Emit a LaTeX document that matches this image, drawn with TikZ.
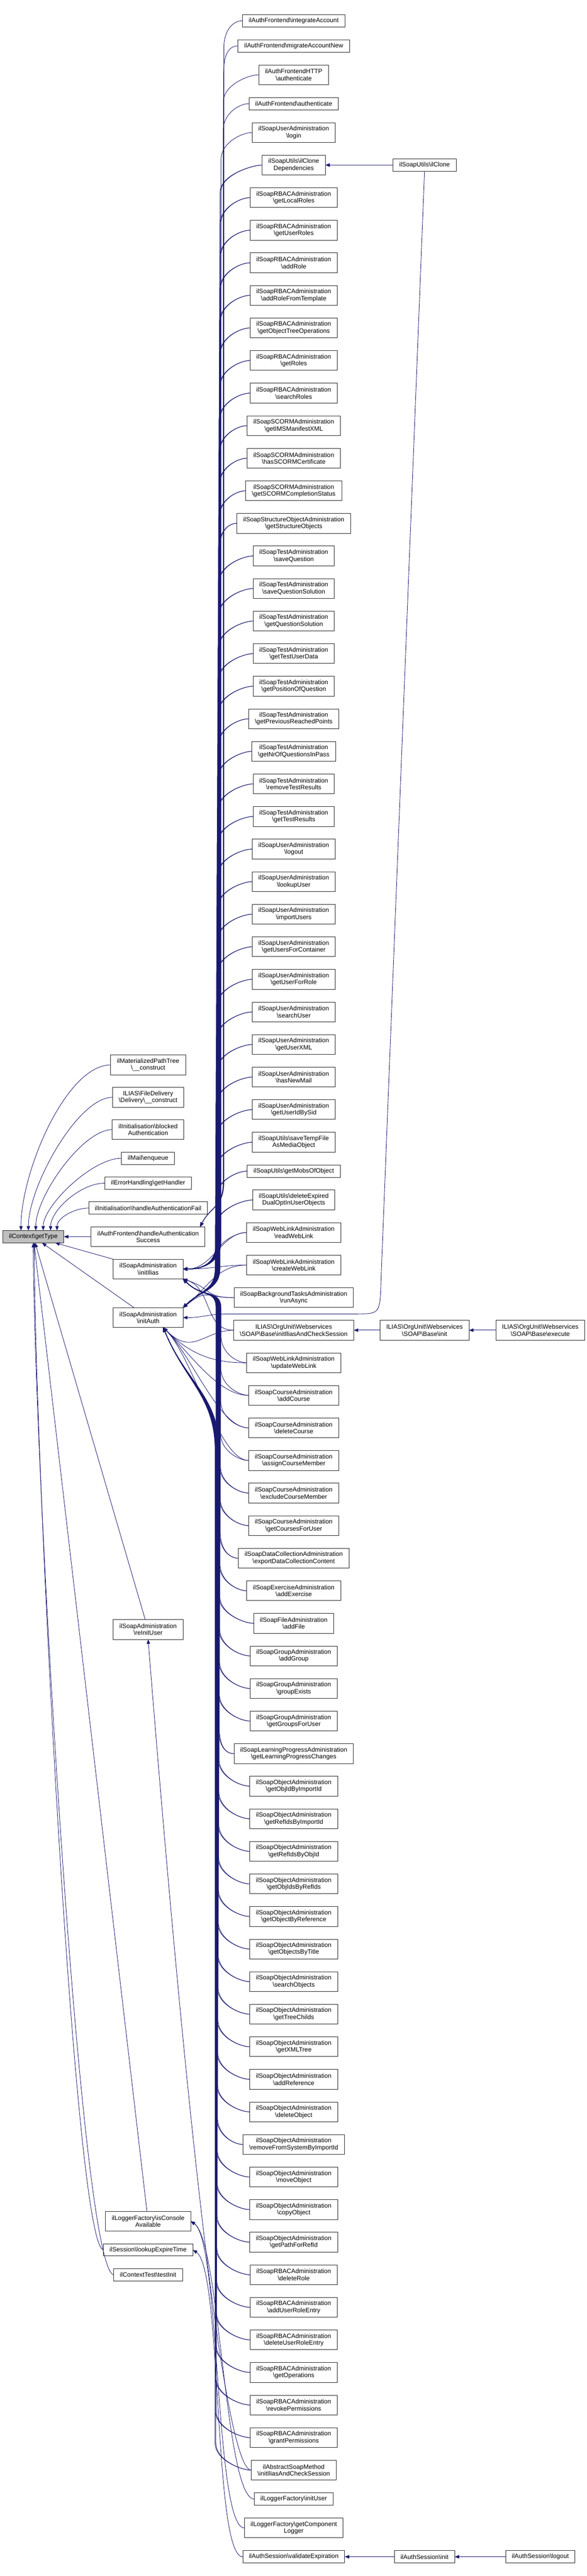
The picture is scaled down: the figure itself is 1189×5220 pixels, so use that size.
\documentclass[tikz,border=0pt]{standalone}
\usepackage{fontspec}
\setmainfont{Liberation Sans}
\usepackage{tikz}
\usetikzlibrary{positioning, calc, arrows.meta}

\definecolor{edgeblue}{RGB}{25,25,112}
\definecolor{focusgray}{RGB}{191,191,191}
\newcommand{\dsep}{\textbackslash}

\begin{document}
\begin{tikzpicture}[x=1pt, y=-1pt, node distance=26pt,
  >={Triangle[length=9pt, width=7pt]},
  fn/.style={rectangle, draw=black!85, line width=0.9pt, fill=white, align=center,
    inner xsep=12.6pt, inner ysep=2pt, outer sep=0pt, minimum height=25pt,
    font=\fontsize{12.75}{14}\selectfont},
  dbl/.style={minimum height=40pt},
  call/.style={->, draw=edgeblue, line width=0.9pt}]

  \useasboundingbox (0,0) rectangle (1189,5220);

  % the function
  \node[fn, fill=focusgray] (gettype) at (67.5,2506) {ilContext\dsep getType};

  % direct callers
  \node[fn, dbl] (mptree) at (300,2158) {ilMaterializedPathTree\\\dsep\_\_construct};
  \node[fn, dbl, below=25.5pt of mptree] (filedel) {ILIAS\dsep FileDelivery\\\dsep Delivery\dsep\_\_construct};
  \node[fn, dbl, below=25.5pt of filedel] (blocked) {ilInitialisation\dsep blocked\\Authentication};
  \node[fn, below=25.5pt of blocked] (enqueue) {ilMail\dsep enqueue};
  \node[fn, below=25.5pt of enqueue] (gethandler) {ilErrorHandling\dsep getHandler};
  \node[fn, below=25.5pt of gethandler] (authfail) {ilInitialisation\dsep handleAuthenticationFail};
  \node[fn, dbl, below=25.5pt of authfail] (authsucc) {ilAuthFrontend\dsep handleAuthentication\\Success};
  \node[fn, dbl, below=25.5pt of authsucc] (initilias) {ilSoapAdministration\\\dsep initIlias};
  \node[fn, dbl] (initauth) at (300,2670) {ilSoapAdministration\\\dsep initAuth};
  \node[fn, dbl] (reinituser) at (300,3302) {ilSoapAdministration\\\dsep reInitUser};
  \node[fn, dbl] (isconsole) at (300,4501) {ilLoggerFactory\dsep isConsole\\Available};
  \node[fn, below=25.5pt of isconsole] (lookup) {ilSession\dsep lookupExpireTime};
  \node[fn, below=25.5pt of lookup] (testinit) {ilContextTest\dsep testInit};

  % callers of the callers
  \node[fn] (integrate) at (595,42) {ilAuthFrontend\dsep integrateAccount};
  \node[fn, below=of integrate] (migrate) {ilAuthFrontend\dsep migrateAccountNew};
  \node[fn, dbl, below=of migrate] (httpauth) {ilAuthFrontendHTTP\\\dsep authenticate};
  \node[fn, below=of httpauth] (frontauth) {ilAuthFrontend\dsep authenticate};
  \node[fn, dbl, below=of frontauth] (login) {ilSoapUserAdministration\\\dsep login};
  \node[fn, dbl, below=of login] (clonedeps) {ilSoapUtils\dsep ilClone\\Dependencies};
  \node[fn, dbl, below=of clonedeps] (localroles) {ilSoapRBACAdministration\\\dsep getLocalRoles};
  \node[fn, dbl, below=of localroles] (userroles) {ilSoapRBACAdministration\\\dsep getUserRoles};
  \node[fn, dbl, below=of userroles] (addrole) {ilSoapRBACAdministration\\\dsep addRole};
  \node[fn, dbl, below=of addrole] (roletemplate) {ilSoapRBACAdministration\\\dsep addRoleFromTemplate};
  \node[fn, dbl, below=of roletemplate] (treeops) {ilSoapRBACAdministration\\\dsep getObjectTreeOperations};
  \node[fn, dbl, below=of treeops] (getroles) {ilSoapRBACAdministration\\\dsep getRoles};
  \node[fn, dbl, below=of getroles] (searchroles) {ilSoapRBACAdministration\\\dsep searchRoles};
  \node[fn, dbl, below=of searchroles] (manifest) {ilSoapSCORMAdministration\\\dsep getIMSManifestXML};
  \node[fn, dbl, below=of manifest] (scormcert) {ilSoapSCORMAdministration\\\dsep hasSCORMCertificate};
  \node[fn, dbl, below=of scormcert] (scormstatus) {ilSoapSCORMAdministration\\\dsep getSCORMCompletionStatus};
  \node[fn, dbl, below=of scormstatus] (structobjs) {ilSoapStructureObjectAdministration\\\dsep getStructureObjects};
  \node[fn, dbl, below=of structobjs] (savequest) {ilSoapTestAdministration\\\dsep saveQuestion};
  \node[fn, dbl, below=of savequest] (savesol) {ilSoapTestAdministration\\\dsep saveQuestionSolution};
  \node[fn, dbl, below=of savesol] (getsol) {ilSoapTestAdministration\\\dsep getQuestionSolution};
  \node[fn, dbl, below=of getsol] (testuser) {ilSoapTestAdministration\\\dsep getTestUserData};
  \node[fn, dbl, below=of testuser] (questpos) {ilSoapTestAdministration\\\dsep getPositionOfQuestion};
  \node[fn, dbl, below=of questpos] (prevpoints) {ilSoapTestAdministration\\\dsep getPreviousReachedPoints};
  \node[fn, dbl, below=of prevpoints] (nrquest) {ilSoapTestAdministration\\\dsep getNrOfQuestionsInPass};
  \node[fn, dbl, below=of nrquest] (rmresults) {ilSoapTestAdministration\\\dsep removeTestResults};
  \node[fn, dbl, below=of rmresults] (testresults) {ilSoapTestAdministration\\\dsep getTestResults};
  \node[fn, dbl, below=of testresults] (logout) {ilSoapUserAdministration\\\dsep logout};
  \node[fn, dbl, below=of logout] (lookupuser) {ilSoapUserAdministration\\\dsep lookupUser};
  \node[fn, dbl, below=of lookupuser] (importusers) {ilSoapUserAdministration\\\dsep importUsers};
  \node[fn, dbl, below=of importusers] (userscont) {ilSoapUserAdministration\\\dsep getUsersForContainer};
  \node[fn, dbl, below=of userscont] (userrole) {ilSoapUserAdministration\\\dsep getUserForRole};
  \node[fn, dbl, below=of userrole] (searchuser) {ilSoapUserAdministration\\\dsep searchUser};
  \node[fn, dbl, below=of searchuser] (userxml) {ilSoapUserAdministration\\\dsep getUserXML};
  \node[fn, dbl, below=of userxml] (newmail) {ilSoapUserAdministration\\\dsep hasNewMail};
  \node[fn, dbl, below=of newmail] (useridsid) {ilSoapUserAdministration\\\dsep getUserIdBySid};
  \node[fn, dbl, below=of useridsid] (tempfile) {ilSoapUtils\dsep saveTempFile\\AsMediaObject};
  \node[fn, below=of tempfile] (mobs) {ilSoapUtils\dsep getMobsOfObject};
  \node[fn, dbl, below=of mobs] (dualoptin) {ilSoapUtils\dsep deleteExpired\\DualOptInUserObjects};
  \node[fn, dbl, below=of dualoptin] (readlink) {ilSoapWebLinkAdministration\\\dsep readWebLink};
  \node[fn, dbl, below=of readlink] (createlink) {ilSoapWebLinkAdministration\\\dsep createWebLink};
  \node[fn, dbl, below=of createlink] (runasync) {ilSoapBackgroundTasksAdministration\\\dsep runAsync};
  \node[fn, dbl, below=of runasync] (orgcheck) {ILIAS\dsep OrgUnit\dsep Webservices\\\dsep SOAP\dsep Base\dsep initIliasAndCheckSession};
  \node[fn, dbl, below=of orgcheck] (updatelink) {ilSoapWebLinkAdministration\\\dsep updateWebLink};
  \node[fn, dbl, below=of updatelink] (addcourse) {ilSoapCourseAdministration\\\dsep addCourse};
  \node[fn, dbl, below=of addcourse] (delcourse) {ilSoapCourseAdministration\\\dsep deleteCourse};
  \node[fn, dbl, below=of delcourse] (assignmember) {ilSoapCourseAdministration\\\dsep assignCourseMember};
  \node[fn, dbl, below=of assignmember] (excludemember) {ilSoapCourseAdministration\\\dsep excludeCourseMember};
  \node[fn, dbl, below=of excludemember] (coursesuser) {ilSoapCourseAdministration\\\dsep getCoursesForUser};
  \node[fn, dbl, below=of coursesuser] (dcexport) {ilSoapDataCollectionAdministration\\\dsep exportDataCollectionContent};
  \node[fn, dbl, below=of dcexport] (addexercise) {ilSoapExerciseAdministration\\\dsep addExercise};
  \node[fn, dbl, below=of addexercise] (addfile) {ilSoapFileAdministration\\\dsep addFile};
  \node[fn, dbl, below=of addfile] (addgroup) {ilSoapGroupAdministration\\\dsep addGroup};
  \node[fn, dbl, below=of addgroup] (groupexists) {ilSoapGroupAdministration\\\dsep groupExists};
  \node[fn, dbl, below=of groupexists] (groupsuser) {ilSoapGroupAdministration\\\dsep getGroupsForUser};
  \node[fn, dbl, below=of groupsuser] (lpchanges) {ilSoapLearningProgressAdministration\\\dsep getLearningProgressChanges};
  \node[fn, dbl, below=of lpchanges] (objidimport) {ilSoapObjectAdministration\\\dsep getObjIdByImportId};
  \node[fn, dbl, below=of objidimport] (refidsimport) {ilSoapObjectAdministration\\\dsep getRefIdsByImportId};
  \node[fn, dbl, below=of refidsimport] (refidsobj) {ilSoapObjectAdministration\\\dsep getRefIdsByObjId};
  \node[fn, dbl, below=of refidsobj] (objidsref) {ilSoapObjectAdministration\\\dsep getObjIdsByRefIds};
  \node[fn, dbl, below=of objidsref] (objbyref) {ilSoapObjectAdministration\\\dsep getObjectByReference};
  \node[fn, dbl, below=of objbyref] (objbytitle) {ilSoapObjectAdministration\\\dsep getObjectsByTitle};
  \node[fn, dbl, below=of objbytitle] (searchobjs) {ilSoapObjectAdministration\\\dsep searchObjects};
  \node[fn, dbl, below=of searchobjs] (treechilds) {ilSoapObjectAdministration\\\dsep getTreeChilds};
  \node[fn, dbl, below=of treechilds] (xmltree) {ilSoapObjectAdministration\\\dsep getXMLTree};
  \node[fn, dbl, below=of xmltree] (addref) {ilSoapObjectAdministration\\\dsep addReference};
  \node[fn, dbl, below=of addref] (delobj) {ilSoapObjectAdministration\\\dsep deleteObject};
  \node[fn, dbl, below=of delobj] (rmsystem) {ilSoapObjectAdministration\\\dsep removeFromSystemByImportId};
  \node[fn, dbl, below=of rmsystem] (moveobj) {ilSoapObjectAdministration\\\dsep moveObject};
  \node[fn, dbl, below=of moveobj] (copyobj) {ilSoapObjectAdministration\\\dsep copyObject};
  \node[fn, dbl, below=of copyobj] (pathref) {ilSoapObjectAdministration\\\dsep getPathForRefId};
  \node[fn, dbl, below=of pathref] (delrole) {ilSoapRBACAdministration\\\dsep deleteRole};
  \node[fn, dbl, below=of delrole] (adduserrole) {ilSoapRBACAdministration\\\dsep addUserRoleEntry};
  \node[fn, dbl, below=of adduserrole] (deluserrole) {ilSoapRBACAdministration\\\dsep deleteUserRoleEntry};
  \node[fn, dbl, below=of deluserrole] (getops) {ilSoapRBACAdministration\\\dsep getOperations};
  \node[fn, dbl, below=of getops] (revokeperm) {ilSoapRBACAdministration\\\dsep revokePermissions};
  \node[fn, dbl, below=of revokeperm] (grantperm) {ilSoapRBACAdministration\\\dsep grantPermissions};
  \node[fn, dbl, below=of grantperm] (abstractcheck) {ilAbstractSoapMethod\\\dsep initIliasAndCheckSession};
  \node[fn, below=of abstractcheck] (loggeruser) {ilLoggerFactory\dsep initUser};
  \node[fn, dbl, below=of loggeruser] (complogger) {ilLoggerFactory\dsep getComponent\\Logger};
  \node[fn, below=of complogger] (validexp) {ilAuthSession\dsep validateExpiration};

  % outer callers
  \node[fn] (ilclone) at ([xshift=265pt]clonedeps.center) {ilSoapUtils\dsep ilClone};
  \node[fn, dbl] (orginit) at ([xshift=265pt]orgcheck.center) {ILIAS\dsep OrgUnit\dsep Webservices\\\dsep SOAP\dsep Base\dsep init};
  \node[fn, dbl] (orgexec) at ([xshift=499.5pt]orgcheck.center) {ILIAS\dsep OrgUnit\dsep Webservices\\\dsep SOAP\dsep Base\dsep execute};
  \node[fn] (sessinit) at ([xshift=265pt]validexp.center) {ilAuthSession\dsep init};
  \node[fn] (sesslogout) at ([xshift=499.5pt]validexp.center) {ilAuthSession\dsep logout};

  \coordinate (chan) at (448,0);
  \coordinate (succtop) at ([xshift=-10pt]authsucc.north east);
  \coordinate (authfoot) at ([xshift=-40pt]initauth.south east);
  \coordinate (clonebend) at (772,2590);
  \coordinate (clonegap) at ($(runasync.south)!0.5!(orgcheck.north)$);
  \coordinate (gapeast) at ([xshift=130pt]clonegap);
  \coordinate (gapwest) at ([xshift=-132pt]clonegap);

  % edges into getType
  \draw[call] (mptree.west) .. controls +(-90,0) and +(0,-120) .. ([xshift=-25pt]gettype.north);
  \draw[call] (filedel.west) .. controls +(-70,0) and +(0,-90) .. ([xshift=-10pt]gettype.north);
  \draw[call] (blocked.west) .. controls +(-60,0) and +(0,-70) .. ([xshift=5pt]gettype.north);
  \draw[call] (enqueue.west) .. controls +(-60,0) and +(0,-50) .. ([xshift=20pt]gettype.north);
  \draw[call] (gethandler.west) .. controls +(-50,0) and +(0,-40) .. ([xshift=35pt]gettype.north);
  \draw[call] (authfail.west) .. controls +(-30,0) and +(0,-25) .. ([xshift=48pt]gettype.north);
  \draw[call] (authsucc) -- (gettype);
  \draw[call] (initilias) -- (gettype);
  \draw[call] (initauth) -- (gettype);
  \draw[call] (reinituser) -- (gettype);
  \draw[call] (isconsole) -- (gettype);
  \draw[call] (lookup.west) .. controls +(-60,-10) and +(0,400) .. ([xshift=2pt]gettype.south);
  \draw[call] (testinit.west) .. controls +(-70,-10) and +(0,400) .. (gettype.south);

  % edges into the direct callers
  \foreach \n [count=\i] in {integrate, migrate, httpauth, frontauth} {
    \coordinate (bend) at ($(\n.west -| chan)+(6-0.5*\i,55)$);
    \coordinate (foot) at ($(bend |- succtop)+(0,-90)$);
    \draw[call] (\n.west) .. controls +(-20,0) and +(0,-35) .. (bend) -- (foot)
      .. controls +(0,50) and +(20,-40) .. (succtop);
  }
  \foreach \n [count=\i] in {login, clonedeps, localroles, userroles, addrole, roletemplate, treeops,
      getroles, searchroles, manifest, scormcert, scormstatus, structobjs, savequest, savesol, getsol,
      testuser, questpos, prevpoints, nrquest, rmresults, testresults, logout, lookupuser, importusers,
      userscont, userrole, searchuser, userxml, newmail, useridsid, tempfile, mobs, dualoptin} {
    \coordinate (bend) at ($(\n.west -| chan)+(-0.3*\i,55)$);
    \coordinate (foot) at ($(bend |- initilias.east)+(0,-55)$);
    \draw[call] (\n.west) .. controls +(-20,0) and +(0,-35) .. (bend) -- (foot)
      .. controls +(0,35) and +(50,0) .. (initilias.east);
  }
  \foreach \n in {readlink, createlink}
    \draw[call] (\n.west) .. controls +(-50,0) and +(60,0) .. (initilias.east);
  \foreach \n [count=\i] in {clonedeps, localroles, userroles, addrole, roletemplate, treeops,
      getroles, searchroles, manifest, scormcert, scormstatus, structobjs, savequest, savesol, getsol,
      testuser, questpos, prevpoints, nrquest, rmresults, testresults, logout, lookupuser, importusers,
      userscont, userrole, searchuser, userxml, newmail, useridsid, tempfile, mobs, dualoptin, readlink} {
    \coordinate (bend) at ($(\n.west -| chan)+(-2-0.3*\i,55)$);
    \coordinate (foot) at ($(bend |- initauth.north east)+(0,-80)$);
    \draw[call] (\n.west) .. controls +(-20,0) and +(0,-35) .. (bend) -- (foot)
      .. controls +(0,45) and +(35,-35) .. (initauth.north east);
  }
  \foreach \n in {createlink, runasync}
    \draw[call] (\n.west) .. controls +(-60,0) and +(50,-40) .. (initauth.north east);
  \foreach \n [count=\i] in {updatelink, addcourse, delcourse, assignmember, excludemember,
      coursesuser, dcexport, addexercise, addfile, addgroup, groupexists, groupsuser, lpchanges,
      objidimport, refidsimport, refidsobj, objidsref, objbyref, objbytitle, searchobjs, treechilds,
      xmltree, addref, delobj, rmsystem, moveobj, copyobj, pathref, delrole, adduserrole, deluserrole,
      getops, revokeperm, grantperm, abstractcheck} {
    \coordinate (bend) at ($(\n.west -| chan)+(-0.3*\i,-55)$);
    \coordinate (foot) at ($(bend |- initilias.south east)+(0,60)$);
    \draw[call] (\n.west) .. controls +(-20,0) and +(0,35) .. (bend) -- (foot)
      .. controls +(0,-40) and +(40,40) .. (initilias.south east);
  }
  \foreach \n in {runasync, orgcheck}
    \draw[call] (\n.west) .. controls +(-60,0) and +(60,20) .. (initilias.south east);
  \foreach \n [count=\i] in {excludemember, coursesuser, dcexport, addexercise, addfile, addgroup,
      groupexists, groupsuser, lpchanges, objidimport, refidsimport, refidsobj, objidsref, objbyref,
      objbytitle, searchobjs, treechilds, xmltree, addref, delobj, rmsystem, moveobj, copyobj, pathref,
      delrole, adduserrole, deluserrole, getops, revokeperm, grantperm, abstractcheck} {
    \coordinate (bend) at ($(\n.west -| chan)+(-3-0.3*\i,-55)$);
    \coordinate (foot) at ($(bend |- authfoot)+(0,250)$);
    \draw[call] (\n.west) .. controls +(-20,0) and +(0,35) .. (bend) -- (foot)
      .. controls +(0,-110) and +(45,110) .. (authfoot);
  }
  \foreach \n in {orgcheck, updatelink, addcourse, delcourse, assignmember}
    \draw[call] (\n.west) .. controls +(-60,0) and +(60,60) .. (authfoot);
  \draw[call] (abstractcheck.west) .. controls +(-70,0) and +(40,500) .. (reinituser.south);
  \foreach \n in {loggeruser, complogger}
    \draw[call] (\n.west) .. controls +(-60,0) and +(60,40) .. (isconsole.east);
  \draw[call] (validexp.west) .. controls +(-60,0) and +(60,40) .. (lookup.east);

  % outer edges
  \draw[call] (ilclone) -- (clonedeps);
  \draw[call] (ilclone.south) -- (clonebend) .. controls (770,2662) .. (gapeast) -- (gapwest)
    .. controls +(-40,0) and +(40,0) .. (initauth.east);
  \draw[call] (orginit) -- (orgcheck);
  \draw[call] (orgexec) -- (orginit);
  \draw[call] (sessinit) -- (validexp);
  \draw[call] (sesslogout) -- (sessinit);
\end{tikzpicture}
\end{document}
